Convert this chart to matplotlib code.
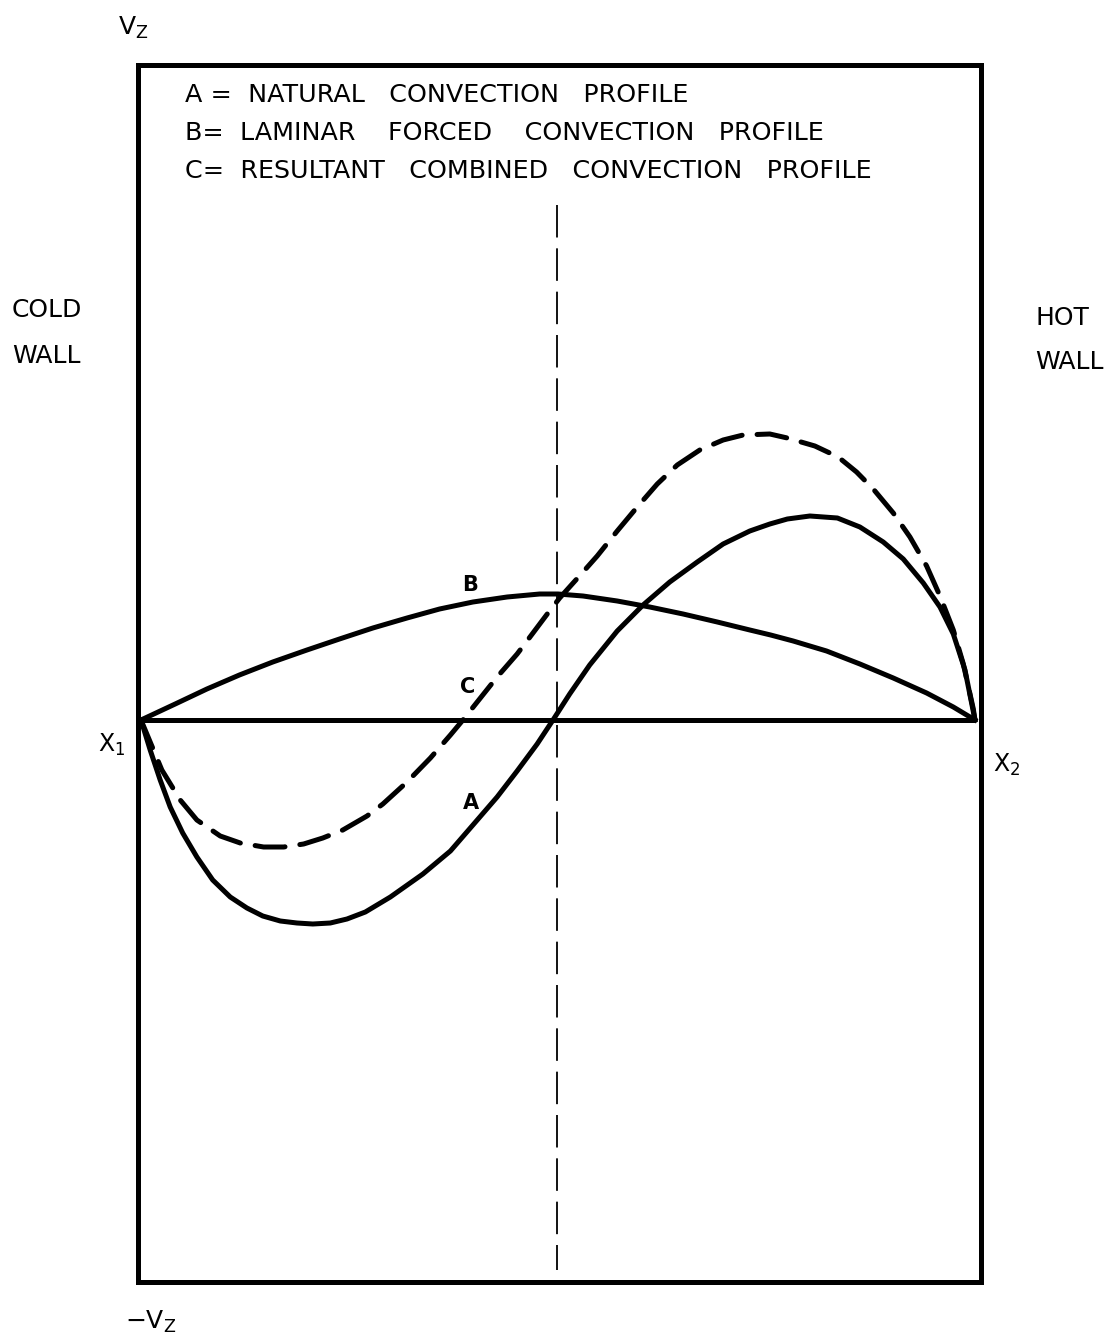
import matplotlib.pyplot as plt
import numpy as np

# x as fraction of the channel width (X1 = 0, X2 = 1), velocity in arbitrary units
A_X = [0.0, 0.011, 0.023, 0.035, 0.050, 0.067, 0.086, 0.107, 0.127, 0.146, 0.167, 0.187, 0.206, 0.227,
       0.247, 0.269, 0.299, 0.338, 0.371, 0.398, 0.427, 0.451, 0.475, 0.494, 0.514, 0.538, 0.571, 0.602,
       0.634, 0.667, 0.698, 0.730, 0.754, 0.775, 0.802, 0.835, 0.862, 0.890, 0.914, 0.938, 0.958, 0.974,
       0.988, 1.0]
A_V = [0.0, -0.30, -0.60, -0.87, -1.13, -1.37, -1.60, -1.77, -1.88, -1.96, -2.01, -2.03, -2.04, -2.03,
       -1.99, -1.92, -1.77, -1.54, -1.31, -1.05, -0.77, -0.51, -0.24, 0.0, 0.26, 0.55, 0.89, 1.15,
       1.38, 1.58, 1.76, 1.89, 1.96, 2.01, 2.04, 2.02, 1.93, 1.78, 1.61, 1.37, 1.13, 0.86,
       0.50, 0.0]

B_X = [0.0, 0.041, 0.079, 0.118, 0.158, 0.199, 0.238, 0.278, 0.319, 0.358, 0.398, 0.439, 0.478, 0.500,
       0.530, 0.571, 0.610, 0.650, 0.691, 0.730, 0.755, 0.782, 0.822, 0.862, 0.902, 0.942, 0.974, 1.0]
B_V = [0.0, 0.16, 0.31, 0.45, 0.58, 0.70, 0.81, 0.92, 1.02, 1.11, 1.18, 1.23, 1.26, 1.26,
       1.24, 1.19, 1.13, 1.06, 0.98, 0.90, 0.85, 0.79, 0.69, 0.56, 0.42, 0.27, 0.13, 0.0]

C_X = [0.0, 0.010, 0.020, 0.025, 0.047, 0.067, 0.095, 0.119, 0.147, 0.171, 0.195, 0.218, 0.242, 0.271,
       0.290, 0.319, 0.347, 0.371, 0.386, 0.406, 0.427, 0.451, 0.470, 0.488, 0.502, 0.530, 0.547, 0.571,
       0.595, 0.619, 0.643, 0.670, 0.698, 0.722, 0.754, 0.775, 0.808, 0.836, 0.858, 0.878, 0.902, 0.922,
       0.942, 0.958, 0.974, 0.986, 0.998, 1.0]
C_V = [0.0, -0.20, -0.40, -0.50, -0.80, -1.00, -1.16, -1.23, -1.27, -1.27, -1.24, -1.18, -1.10, -0.96,
       -0.84, -0.62, -0.38, -0.15, 0.0, 0.21, 0.43, 0.66, 0.87, 1.07, 1.22, 1.48, 1.64, 1.89,
       2.13, 2.36, 2.55, 2.70, 2.80, 2.85, 2.86, 2.82, 2.74, 2.63, 2.48, 2.31, 2.07, 1.83,
       1.54, 1.24, 0.90, 0.56, 0.11, 0.0]

LEGEND = ["A =  NATURAL   CONVECTION   PROFILE",
          "B=  LAMINAR    FORCED    CONVECTION   PROFILE",
          "C=  RESULTANT   COMBINED   CONVECTION   PROFILE"]

W, H = 1119, 1342
fig = plt.figure(figsize=(W / 100, H / 100), dpi=100)
left, right, top, bottom = 138, 981, 65, 1282
ax = fig.add_axes([left / W, 1 - bottom / H, (right - left) / W, (bottom - top) / H])
ax.set_xlim(-0.0036, 1.0072)
ax.set_ylim(-5.62, 6.55)
ax.set_xticks([])
ax.set_yticks([])
for s in ax.spines.values():
    s.set_linewidth(3.6)

lw = 3.6
ax.plot([0, 1], [0, 0], color='k', lw=lw, solid_capstyle='butt')
ax.plot(A_X, A_V, color='k', lw=lw, solid_joinstyle='round')
ax.plot(B_X, B_V, color='k', lw=lw, solid_joinstyle='round')
ax.plot(C_X, C_V, color='k', lw=lw, linestyle=(0, (6, 3)), dash_capstyle='round',
        dash_joinstyle='round')
ax.plot([0.499, 0.499], [5.15, -5.5], color='k', lw=1.3, linestyle=(0, (18, 6)))

font = dict(family='DejaVu Sans', color='k')
ax.text(0.394, 1.35, 'B', fontsize=15, fontweight='bold', ha='center', va='center', **font)
ax.text(0.392, 0.33, 'C', fontsize=15, fontweight='bold', ha='center', va='center', **font)
ax.text(0.396, -0.83, 'A', fontsize=15, fontweight='bold', ha='center', va='center', **font)

for i, line in enumerate(LEGEND):
    fig.text(185 / W, 1 - (95 + 38 * i) / H, line, fontsize=18.3, va='center', ha='left', **font)

fig.text(12 / W, 1 - 310 / H, 'COLD', fontsize=18, va='center', **font)
fig.text(12 / W, 1 - 356 / H, 'WALL', fontsize=18, va='center', **font)
fig.text(1035 / W, 1 - 318 / H, 'HOT', fontsize=18, va='center', **font)
fig.text(1035 / W, 1 - 362 / H, 'WALL', fontsize=18, va='center', **font)
fig.text(98 / W, 1 - 745 / H, r'$\mathregular{X_1}$', fontsize=17, va='center', **font)
fig.text(993 / W, 1 - 765 / H, r'$\mathregular{X_2}$', fontsize=17, va='center', **font)
fig.text(118 / W, 1 - 28 / H, r'$\mathregular{V_Z}$', fontsize=18, va='center', **font)
fig.text(125 / W, 1 - 1322 / H, r'$\mathregular{-V_Z}$', fontsize=18, va='center', **font)

fig.savefig('out.png', dpi=100, facecolor='white')
